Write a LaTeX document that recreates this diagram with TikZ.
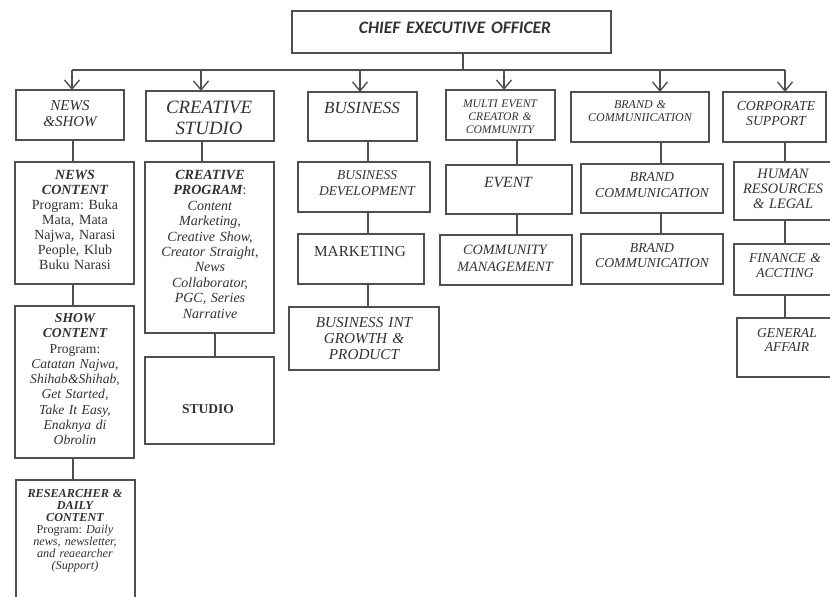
\documentclass[tikz,border=0pt]{standalone}
\usepackage{fontspec}
\setmainfont{Liberation Serif}
\newfontfamily\ceofont{Carlito}
\usetikzlibrary{arrows.meta}
\definecolor{linec}{RGB}{80,80,80}
\definecolor{txtc}{RGB}{50,50,50}
\frenchspacing
\newcommand\bi[1]{{\bfseries\itshape #1}}
\newcommand\orgbox[5]{\node[box, minimum width={(#4-#2)*1pt}, minimum height={(#5-#3)*1pt}] (#1) at (#2,#3) {};}
% name, x, y(first baseline), size, skip, text
\newcommand\orglbl[6]{\node[lbl, font=\fontsize{#4}{#5}\selectfont\frenchspacing] (#1) at (#2,#3) {#6};}
\begin{document}
\begin{tikzpicture}[x=1pt,y=-1pt,
  box/.style={draw=linec, line width=1.1pt, inner sep=0pt, outer sep=0pt, anchor=north west},
  lbl/.style={text=txtc, anchor=base, align=center, text width=170pt, inner sep=0pt},
  wire/.style={draw=linec, line width=1.1pt},
  arr/.style={wire, -{Straight Barb[length=9pt,width=15pt,line width=1.4pt]}}
]
\useasboundingbox (0,0) rectangle (830,597);
\fill[white] (0,0) rectangle (830,597);
\clip (0,0) rectangle (830,597);

% boxes
\orgbox{ceo}{292}{11}{611}{53}
\orgbox{ns}{16}{90}{124}{140}
\orgbox{cs}{146}{91}{274}{141}
\orgbox{bu}{308}{92}{417}{141}
\orgbox{me}{446}{90}{555}{140}
\orgbox{bc}{571}{92}{709}{142}
\orgbox{co}{723}{92}{826}{142}
\orgbox{nc}{15}{162}{134}{284}
\orgbox{sc}{15}{306}{134}{458}
\orgbox{rd}{16}{480}{135}{620}
\orgbox{cp}{145}{162}{274}{333}
\orgbox{st}{145}{357}{274}{444}
\orgbox{bd}{298}{162}{430}{212}
\orgbox{mk}{298}{234}{424}{284}
\orgbox{bi}{289}{307}{439}{370}
\orgbox{ev}{446}{165}{572}{214}
\orgbox{cm}{440}{235}{572}{285}
\orgbox{bone}{581}{164}{723}{213}
\orgbox{btwo}{581}{234}{723}{284}
\orgbox{hr}{734}{162}{845}{220}
\orgbox{fi}{734}{244}{845}{295}
\orgbox{ga}{737}{318}{845}{377}

% labels
\node[lbl, text width=310pt, font=\fontsize{17.5}{18}\selectfont] (tceo) at (455,33.5) {\ceofont\bfseries\itshape CHIEF EXECUTIVE OFFICER};
\orglbl{tns}{70}{110}{15}{16}{\itshape NEWS\\\&SHOW}
\orglbl{tcs}{209}{113.2}{18.8}{21}{\itshape CREATIVE\\STUDIO}
\orglbl{tbu}{362}{113.6}{17}{19}{\itshape BUSINESS}
\orglbl{tme}{500}{107}{11.6}{13}{\itshape MULTI EVENT\\CREATOR \&\\COMMUNITY}
\orglbl{tbc}{640}{108}{12}{13}{\itshape BRAND \&\\COMMUNIICATION}
\orglbl{tco}{776}{110.6}{13.8}{15}{\itshape CORPORATE\\SUPPORT}
\orglbl{tnc}{75}{179.5}{14}{15}{\bi{NEWS}\\\bi{CONTENT}\\Program: Buka\\Mata, Mata\\Najwa, Narasi\\People, Klub\\Buku Narasi}
\orglbl{tcp}{210}{179.5}{14}{15.4}{\bi{CREATIVE}\\\bi{PROGRAM}:\\\textit{Content}\\\textit{Marketing,}\\\textit{Creative Show,}\\\textit{Creator Straight,}\\\textit{News}\\\textit{Collaborator,}\\\textit{PGC, Series}\\\textit{Narrative}}
\orglbl{tsc}{75}{322.5}{13.6}{15.25}{\bi{SHOW}\\\bi{CONTENT}\\Program:\\\textit{Catatan Najwa,}\\\textit{Shihab\&Shihab,}\\\textit{Get Started,}\\\textit{Take It Easy,}\\\textit{Enaknya di}\\\textit{Obrolin}}
\orglbl{tst}{208}{413.5}{13.5}{15}{\bfseries STUDIO}
\orglbl{trd}{75}{497}{12.2}{12}{\bi{RESEARCHER \&}\\\bi{DAILY}\\\bi{CONTENT}\\Program: \textit{Daily}\\\textit{news, newsletter,}\\\textit{and reaearcher}\\\textit{(Support)}}
\orglbl{tbd}{367}{179.5}{13.5}{16}{\itshape BUSINESS\\DEVELOPMENT}
\orglbl{tmk}{360}{256}{15.3}{17}{MARKETING}
\orglbl{tbi}{364}{327}{15.2}{16}{\itshape BUSINESS INT\\GROWTH \&\\PRODUCT}
\orglbl{tev}{508}{187.2}{15.6}{17}{\itshape EVENT}
\orglbl{tcm}{505}{254.7}{14.2}{17}{\itshape COMMUNITY\\MANAGEMENT}
\orglbl{tbone}{652}{181.5}{13.7}{16}{\itshape BRAND\\COMMUNICATION}
\orglbl{tbtwo}{652}{252.5}{13.7}{15}{\itshape BRAND\\COMMUNICATION}
\orglbl{thr}{783}{178.8}{14.4}{15}{\itshape HUMAN\\RESOURCES\\\& LEGAL}
\orglbl{tfi}{785}{262.5}{13.6}{15}{\itshape FINANCE \&\\ACCTING}
\orglbl{tga}{787}{337.5}{13.6}{14}{\itshape GENERAL\\AFFAIR}

% connectors
\coordinate (busL) at (72,70);
\coordinate (busR) at (785,70);
\coordinate (busJ) at (463,70);
\draw[wire] (busJ |- ceo.south) -- (busJ);
\draw[wire] (busL) -- (busR);
\draw[arr] (busL) -- (busL |- ns.north);
\draw[arr] (201,70) -- (201,0 |- cs.north);
\draw[arr] (360,70) -- (360,0 |- bu.north);
\draw[arr] (504,70) -- (504,0 |- me.north);
\draw[arr] (660,70) -- (660,0 |- bc.north);
\draw[arr] (busR) -- (busR |- co.north);

\draw[wire] (73,0 |- ns.south) -- (73,0 |- nc.north);
\draw[wire] (73,0 |- nc.south) -- (73,0 |- sc.north);
\draw[wire] (73,0 |- sc.south) -- (73,0 |- rd.north);
\draw[wire] (202,0 |- cs.south) -- (202,0 |- cp.north);
\draw[wire] (215,0 |- cp.south) -- (215,0 |- st.north);
\draw[wire] (368,0 |- bu.south) -- (368,0 |- bd.north);
\draw[wire] (368,0 |- bd.south) -- (368,0 |- mk.north);
\draw[wire] (368,0 |- mk.south) -- (368,0 |- bi.north);
\draw[wire] (517,0 |- me.south) -- (517,0 |- ev.north);
\draw[wire] (517,0 |- ev.south) -- (517,0 |- cm.north);
\draw[wire] (661,0 |- bc.south) -- (661,0 |- bone.north);
\draw[wire] (661,0 |- bone.south) -- (661,0 |- btwo.north);
\draw[wire] (785,0 |- co.south) -- (785,0 |- hr.north);
\draw[wire] (785,0 |- hr.south) -- (785,0 |- fi.north);
\draw[wire] (785,0 |- fi.south) -- (785,0 |- ga.north);
\end{tikzpicture}
\end{document}
